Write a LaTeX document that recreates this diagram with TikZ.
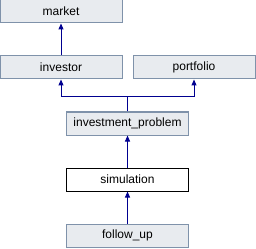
\documentclass[tikz,border=0pt]{standalone}
\usepackage{fontspec}
\setmainfont{Liberation Sans}
\usetikzlibrary{arrows.meta}
\definecolor{boxfill}{HTML}{E8EBEF}
\definecolor{boxline}{HTML}{7F92AA}
\definecolor{edgecol}{HTML}{000090}
\begin{document}
\begin{tikzpicture}[x=1pt,y=-1pt,
  cls/.style={draw=boxline,fill=boxfill,line width=1pt,minimum width=122pt,minimum height=23pt,inner sep=0pt,font=\fontsize{12}{14}\selectfont},
  cur/.style={cls,draw=black,fill=white},
  inh/.style={draw=edgecol,line width=1pt,-{Triangle[width=5pt,length=6pt]}}]
\useasboundingbox (0,0) rectangle (256,248);
\node[cls] (market) at (61,11.5) {market};
\node[cls] (investor) at (61,67.5) {investor};
\node[cls] (portfolio) at (194,67.5) {portfolio};
\node[cls] (ip) at (127.5,123.5) {investment\_problem};
\node[cur] (sim) at (127.5,179.5) {simulation};
\node[cls] (fu) at (127.5,235.5) {follow\_up};
\coordinate (j) at (127.5,97);
\draw[inh] (investor.north) -- (market.south);
\draw[inh] (ip.north) -- (j) -| (investor.south);
\draw[inh] (j) -| (portfolio.south);
\draw[inh] (sim.north) -- (ip.south);
\draw[inh] (fu.north) -- (sim.south);
\end{tikzpicture}
\end{document}
